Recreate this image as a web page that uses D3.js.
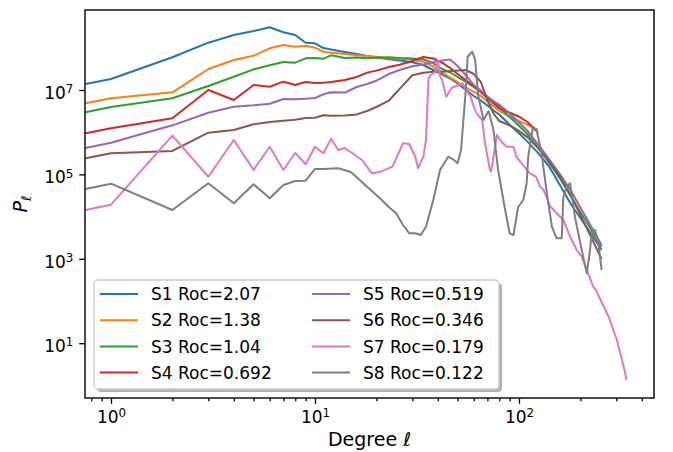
<!DOCTYPE html>
<html>
<head>
<meta charset="utf-8">
<script src="https://cdn.jsdelivr.net/npm/d3@7"></script>
<style>
  body { margin: 0; background: #fff; }
  svg { display: block; font-family: "DejaVu Sans", sans-serif; }
</style>
</head>
<body>
<script>
//Data, P is kept as log10(P)
    const degMain = [0.75, 1, 2, 3, 4, 5, 6, 7, 8, 9, 10, 11, 12, 14, 16, 18, 20, 23, 26, 30,
                     34, 38, 42, 46, 50, 55, 60, 65, 70, 75, 80, 90, 100, 110, 124, 140, 160, 180, 200, 225, 254];

    const s1 = [7.142, 7.261, 7.775, 8.121, 8.303, 8.398, 8.486, 8.367, 8.303, 8.121,
                8.107, 7.995, 7.960, 7.900, 7.853, 7.806, 7.770, 7.730, 7.699, 7.656,
                7.592, 7.474, 7.372, 7.272, 7.154, 7.000, 6.858, 6.751, 6.633, 6.514,
                6.420, 6.178, 5.974, 5.777, 5.510, 5.199, 4.720, 4.287, 3.967, 3.600, 3.209];
    const s2 = [6.685, 6.803, 6.945, 7.498, 7.711, 7.813, 7.988, 8.066, 8.026, 8.050,
                8.002, 7.908, 7.884, 7.853, 7.822, 7.806, 7.787, 7.754, 7.739, 7.720,
                7.670, 7.552, 7.415, 7.296, 7.185, 7.059, 6.953, 6.858, 6.728, 6.609,
                6.507, 6.367, 6.261, 6.180, 6.052];
    const s3 = [6.471, 6.597, 6.803, 7.095, 7.315, 7.490, 7.585, 7.663, 7.647, 7.751,
                7.758, 7.742, 7.822, 7.758, 7.770, 7.751, 7.763, 7.775, 7.758, 7.746,
                7.727, 7.633, 7.498, 7.415, 7.308, 7.190, 7.071, 6.953, 6.846, 6.740,
                6.597, 6.360, 6.154, 5.957, 5.635, 5.294, 4.872, 4.472, 4.109, 3.706, 3.280];
    const s4 = [5.974, 6.092, 6.329, 7.000, 6.763, 7.118, 7.078, 7.197, 7.118, 7.190,
                7.166, 7.173, 7.190, 7.237, 7.308, 7.412, 7.459, 7.545, 7.597, 7.687,
                7.782, 7.746, 7.647, 7.521, 7.379, 7.230, 7.095, 6.953, 6.810, 6.680,
                6.566, 6.460, 6.372, 6.242, 5.993];
    const s5 = [5.626, 5.751, 6.163, 6.462, 6.604, 6.637, 6.675, 6.787, 6.779, 6.794,
                6.810, 6.898, 6.945, 6.940, 7.071, 7.142, 7.220, 7.379, 7.474, 7.562,
                7.604, 7.656, 7.699, 7.723, 7.569, 7.344, 7.118, 6.988, 6.834, 6.728,
                6.656, 6.445, 6.232, 6.036, 5.713, 5.370, 4.986, 4.607, 4.218, 3.785, 3.327];
    const s6 = [5.382, 5.500, 5.555, 5.988, 6.052, 6.187, 6.242, 6.273, 6.296, 6.336,
                6.344, 6.400, 6.391, 6.396, 6.422, 6.502, 6.597, 6.746, 7.028, 7.349,
                7.410, 7.434, 7.434, 7.450, 7.462, 7.474, 7.379, 7.190, 6.763, 6.443,
                6.266, 6.161, 6.029, 5.882, 5.623, 5.317, 4.924, 4.493, 4.038, 3.526, 2.995];

    const degS7 = [0.75, 1, 2, 3, 4, 5, 6, 7, 8, 9, 10, 11, 12, 13, 14, 17, 19, 21, 24, 27,
                   29, 31, 32, 34, 35, 36, 37, 39, 40, 41, 42, 44, 47, 50, 53, 55, 58, 60, 62, 66,
                   68, 72, 73, 75, 78, 82, 87, 94, 97, 103, 113, 121, 127, 132, 142, 153, 165, 178, 192, 203,
                   215, 231, 238, 275, 302, 326, 337];
    const s7 = [4.156, 4.282, 5.917, 4.945, 5.815, 5.104, 5.656, 5.104, 5.514, 5.239,
                5.656, 5.500, 5.846, 5.578, 5.626, 5.341, 5.026, 5.064, 5.183, 5.737,
                5.720, 5.420, 5.145, 5.420, 5.815, 7.284, 7.355, 7.434, 7.687, 7.332,
                7.237, 6.841, 7.059, 7.106, 7.159, 7.000, 6.841, 6.604, 6.448, 6.289,
                5.768, 5.104, 5.064, 5.420, 5.934, 5.775, 5.656, 5.656, 5.420, 5.263,
                5.026, 4.945, 4.709, 4.631, 4.251, 4.078, 3.920, 3.524, 3.209, 3.050,
                2.735, 2.339, 2.261, 1.628, 1.076, 0.443, 0.128];

    const degS8 = [0.75, 1, 2, 3, 4, 5, 6, 7, 8, 9, 10, 11, 13, 15, 18, 21, 23, 25, 27, 29,
                   31, 33, 35, 38, 41, 45, 48, 50, 52, 55, 56, 59, 61, 63, 67, 71, 75, 79, 85, 90,
                   94, 99, 105, 109, 111, 117, 122, 129, 137, 145, 153, 162, 165, 171, 178, 188, 203, 215, 223, 227,
                   236, 245, 254];
    const s8 = [4.654, 4.780, 4.156, 4.789, 4.315, 4.765, 4.434, 4.749, 4.844, 4.851,
                5.128, 5.128, 5.145, 5.057, 4.709, 4.417, 4.227, 4.078, 3.801, 3.604,
                3.604, 3.564, 3.761, 4.393, 5.104, 5.420, 5.341, 5.263, 5.578, 7.078,
                7.789, 7.908, 7.711, 6.882, 6.289, 6.502, 6.052, 5.104, 4.227, 3.604,
                3.564, 4.227, 4.393, 4.789, 5.420, 6.123, 6.052, 5.500, 4.552, 3.761,
                3.486, 3.486, 4.472, 4.709, 4.789, 3.998, 3.209, 2.657, 3.209, 3.604,
                3.683, 3.368, 2.735];

    const labels = ["S1 Roc=2.07", "S2 Roc=1.38", "S3 Roc=1.04", "S4 Roc=0.692",
                    "S5 Roc=0.519", "S6 Roc=0.346", "S7 Roc=0.179", "S8 Roc=0.122"];
    const colors = ["#1f77b4", "#ff7f0e", "#2ca02c", "#d62728",
                    "#9467bd", "#8c564b", "#e377c2", "#7f7f7f"];

    const xTicks = [1, 10, 100];
    const xMinorTicks = [0.8, 0.9, 2, 3, 4, 5, 6, 7, 8, 9, 20, 30, 40, 50, 60, 70, 80, 90, 200, 300, 400];
    const yTicks = [1e1, 1e3, 1e5, 1e7];

//Sizes
    const width = 673;
    const height = 452;
    const margin = {top: 10, right: 19, bottom: 54, left: 85};

    const series = [
        {deg: degMain, p: s1},
        {deg: degMain.slice(0, s2.length), p: s2},
        {deg: degMain, p: s3},
        {deg: degMain.slice(0, s4.length), p: s4},
        {deg: degMain, p: s5},
        {deg: degMain, p: s6},
        {deg: degS7, p: s7},
        {deg: degS8, p: s8}
    ].map((s, i) => ({
        label: labels[i],
        color: colors[i],
        points: s.deg.map((d, j) => [d, Math.pow(10, s.p[j])])
    }));

//Scales - log on both
    const xScale = d3.scaleLog()
                    .domain([0.7457, 459])
                    .range([margin.left, width - margin.right]);

    const yScale = d3.scaleLog()
                    .domain([Math.pow(10, -0.2986), Math.pow(10, 8.8957)])
                    .range([height - margin.bottom, margin.top]);

//SVG
    const svg = d3.select("body")
                .append("svg")
                .attr("width", width)
                .attr("height", height);

    svg.append("clipPath")
        .attr("id", "plot")
        .append("rect")
        .attr("x", margin.left)
        .attr("y", margin.top)
        .attr("width", width - margin.left - margin.right)
        .attr("height", height - margin.top - margin.bottom);

//Lines
    const line = d3.line()
                .x(d => xScale(d[0]))
                .y(d => yScale(d[1]));

    svg.append("g")
        .attr("clip-path", "url(#plot)")
        .selectAll("path")
        .data(series)
        .enter()
        .append("path")
        .attr("d", d => line(d.points))
        .attr("fill", "none")
        .attr("stroke", d => d.color)
        .attr("stroke-width", 2)
        .attr("stroke-linejoin", "round");

//Axes
    const supLabel = function(sel) {
        sel.selectAll(".tick text").each(function(d) {
            const t = d3.select(this);
            t.text("10");
            t.append("tspan")
                .attr("dy", "-0.48em")
                .attr("font-size", "0.7em")
                .text(Math.round(Math.log10(d)));
        });
    };

    const bottomAxis = d3.axisBottom(xScale)
                        .tickValues(xTicks)
                        .tickSize(5.8)
                        .tickPadding(7)
                        .tickSizeOuter(0)
                        .tickFormat(d => d);

    const bottomMinor = d3.axisBottom(xScale)
                        .tickValues(xMinorTicks)
                        .tickSize(3.3)
                        .tickSizeOuter(0)
                        .tickFormat("");

    const leftAxis = d3.axisLeft(yScale)
                        .tickValues(yTicks)
                        .tickSize(5.8)
                        .tickPadding(5.8)
                        .tickSizeOuter(0)
                        .tickFormat(d => d);

    const gx = svg.append("g")
        .attr("transform", "translate(0," + (height - margin.bottom) + ")")
        .call(bottomAxis)
        .call(supLabel);

    svg.append("g")
        .attr("transform", "translate(0," + (height - margin.bottom) + ")")
        .call(bottomMinor);

    const gy = svg.append("g")
        .attr("transform", "translate(" + margin.left + ",0)")
        .call(leftAxis)
        .call(supLabel);

    svg.selectAll(".domain").remove();
    svg.selectAll(".tick line").attr("stroke", "#000").attr("stroke-width", 1.3);
    svg.selectAll(".tick text")
        .attr("font-size", 17)
        .attr("font-family", "DejaVu Sans")
        .attr("fill", "#000");
    gy.selectAll(".tick text").attr("dy", "0.5em");

//Frame
    svg.append("rect")
        .attr("x", margin.left)
        .attr("y", margin.top)
        .attr("width", width - margin.left - margin.right)
        .attr("height", height - margin.top - margin.bottom)
        .attr("fill", "none")
        .attr("stroke", "#000")
        .attr("stroke-width", 1.4);

//Axis labels
    const xLabel = svg.append("text")
        .attr("x", (margin.left + width - margin.right) / 2)
        .attr("y", 446)
        .attr("text-anchor", "middle")
        .attr("font-size", 19)
        .text("Degree ");
    xLabel.append("tspan").attr("font-style", "italic").text("ℓ");

    const yLabel = svg.append("text")
        .attr("transform", "translate(27," + ((margin.top + height - margin.bottom) / 2) + ") rotate(-90)")
        .attr("text-anchor", "middle")
        .attr("font-size", 19)
        .attr("font-style", "italic")
        .text("P");
    yLabel.append("tspan").attr("dy", "0.3em").attr("font-size", "0.7em").text("ℓ");

//Legend
    const lg = svg.append("g");
    lg.append("rect")
        .attr("x", 97).attr("y", 283)
        .attr("width", 405).attr("height", 109)
        .attr("rx", 4)
        .attr("fill", "#b3b3b3");
    lg.append("rect")
        .attr("x", 94).attr("y", 280)
        .attr("width", 405).attr("height", 109)
        .attr("rx", 4)
        .attr("fill", "#fff")
        .attr("stroke", "#cccccc")
        .attr("stroke-width", 1.3);

    const item = lg.selectAll(".item")
        .data(series)
        .enter()
        .append("g")
        .attr("class", "item")
        .attr("transform", (d, i) => "translate(" + (i < 4 ? 100 : 312) + "," + (294 + (i % 4) * 26.2) + ")");

    item.append("line")
        .attr("x1", 0).attr("x2", 38)
        .attr("stroke", d => d.color)
        .attr("stroke-width", 2);

    item.append("text")
        .attr("x", 51)
        .attr("dy", "0.36em")
        .attr("font-size", 17)
        .text(d => d.label);
</script>
</body>
</html>
